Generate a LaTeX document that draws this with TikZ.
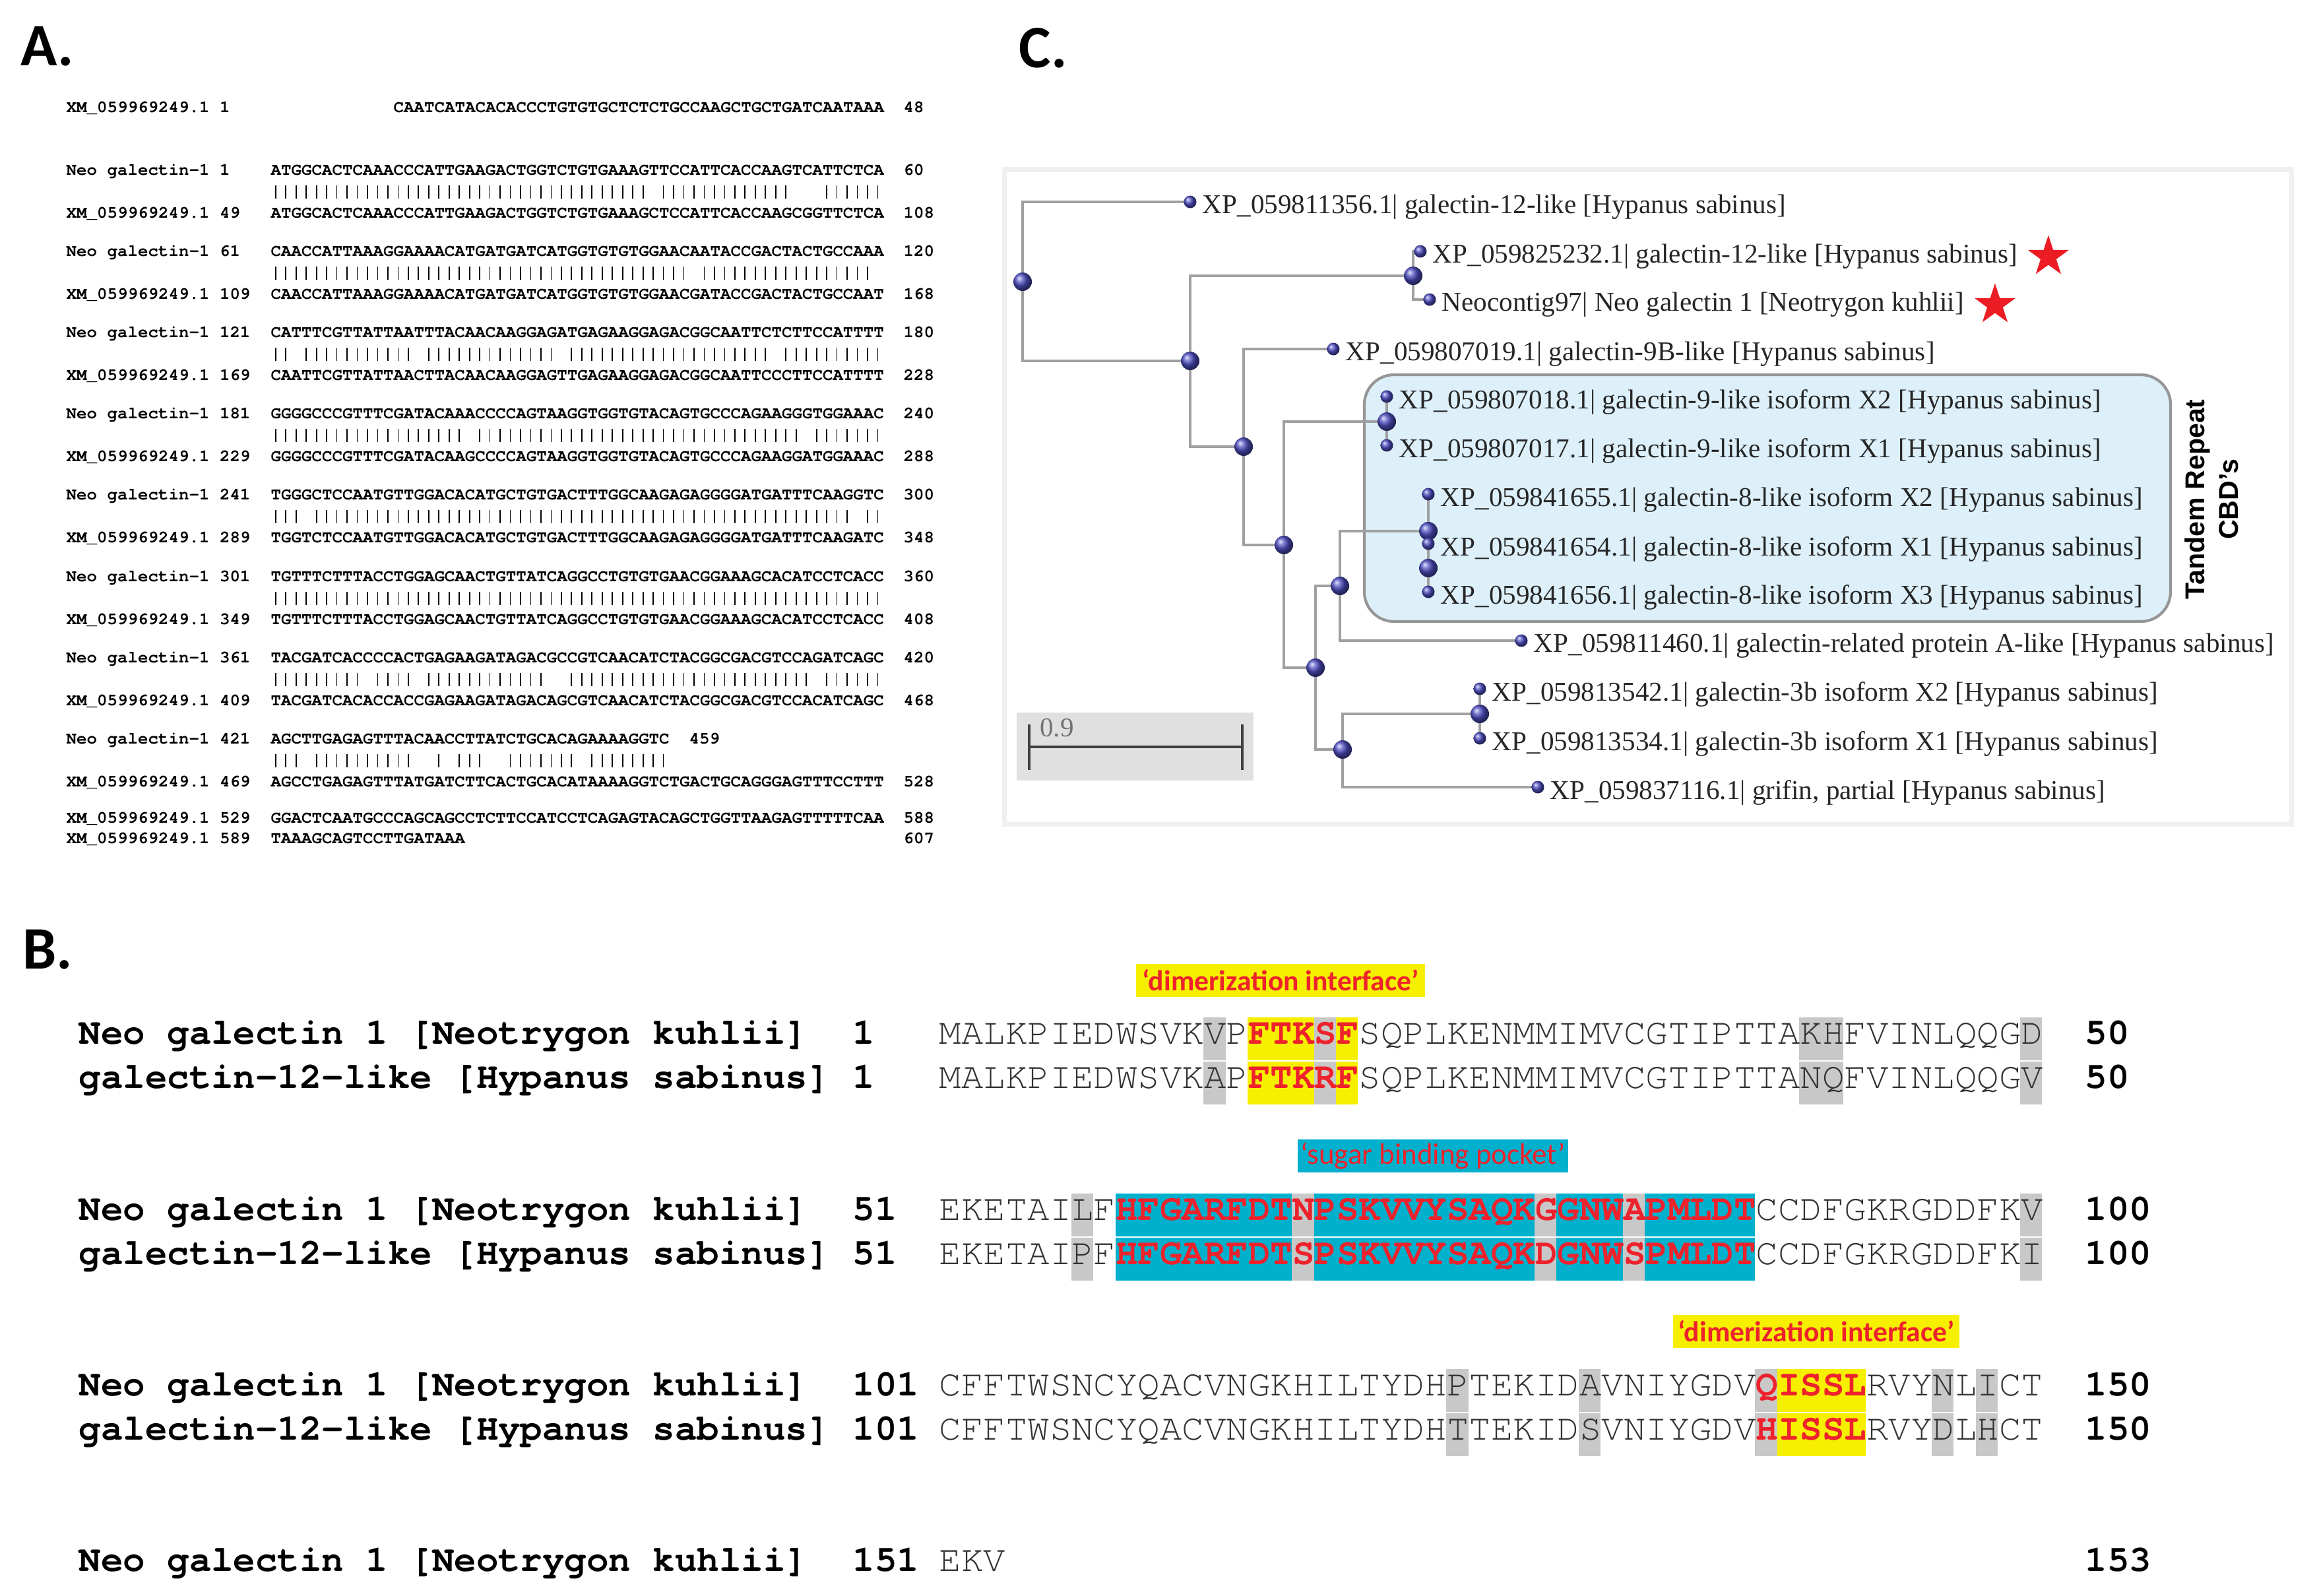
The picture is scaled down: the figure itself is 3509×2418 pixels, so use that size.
\documentclass[tikz,border=0pt]{standalone}
\usepackage{fontspec}
\usetikzlibrary{positioning,shapes.geometric,backgrounds}
\setmainfont{Liberation Serif}
\newfontfamily\seqfont{TeX Gyre Cursor}
\newfontfamily\tagfont{Carlito}
\newfontfamily\sidefont{Liberation Sans}

\definecolor{dotblue}{RGB}{78,78,196}
\definecolor{branchgray}{RGB}{160,160,160}
\definecolor{boxblue}{RGB}{221,240,249}
\definecolor{boxedge}{RGB}{150,150,150}
\definecolor{hlgray}{RGB}{200,200,200}
\definecolor{hlyellow}{RGB}{246,240,0}
\definecolor{hlcyan}{RGB}{0,176,204}
\definecolor{motifred}{RGB}{238,34,44}
\definecolor{starred}{RGB}{236,28,36}

\newcommand{\motif}[1]{\textcolor{motifred}{\bfseries #1}}

\begin{document}
\begin{tikzpicture}[x=0.01cm, y=-0.01cm,
    panellabel/.style={anchor=base west, inner sep=0, font=\tagfont\bfseries\fontsize{26}{30}\selectfont},
    alnline/.style={anchor=base west, inner sep=0, font=\seqfont\bfseries\fontsize{7.34}{9}\selectfont},
    matchbar/.style={line width=0.5pt, black},
    leafdot/.style={circle, inner sep=0, minimum size=0.19cm, ball color=dotblue},
    innerdot/.style={circle, inner sep=0, minimum size=0.28cm, ball color=dotblue},
    branch/.style={draw=branchgray, line width=0.9pt},
    leaflabel/.style={inner sep=0, yshift=-0.08cm, font=\fontsize{11.7}{14}\selectfont, text=black!85},
    redstar/.style={star, star points=5, star point ratio=2.6, fill=starred, inner sep=0, minimum size=0.65cm},
    seqname/.style={anchor=base west, inner sep=0, font=\seqfont\bfseries\fontsize{15.86}{18}\selectfont},
    seqres/.style={anchor=base west, inner sep=0, font=\seqfont\fontsize{15.86}{18}\selectfont, text=black!80},
    tagbox/.style={inner sep=0, minimum height=0.5cm, text=motifred}
  ]
  \useasboundingbox (0,0) rectangle (3509,2418);

  \begin{scope}[on background layer]
    \fill[white] (0,0) rectangle (3509,2418);
    \filldraw[fill=white, draw=black!6, line width=2pt] (1522,257) rectangle (3473,1249);
    \draw[fill=boxblue, draw=boxedge, line width=1.2pt, rounded corners=0.45cm] (2068,568) rectangle (3290,942);
  \end{scope}

  % panel labels
  \node[panellabel] (pa) at (31,100) {A.};
  \node[panellabel] (pb) at (34,1468) {B.};
  \node[panellabel] (pc) at (1544,102) {C.};

  % A: nucleotide alignment
  \node[alnline] (a0n) at (100,170) {XM\_059969249.1 1};
  \node[alnline] (a0s) at (596,170) {CAATCATACACACCCTGTGTGCTCTCTGCCAAGCTGCTGATCAATAAA};
  \node[alnline] (a0e) at (1369,170) {48};

  \node[alnline] (a1n) at (100,265) {Neo galectin-1 1};
  \node[alnline] (a1s) at (410,265) {ATGGCACTCAAACCCATTGAAGACTGGTCTGTGAAAGTTCCATTCACCAAGTCATTCTCA};
  \node[alnline] (a1e) at (1369,265) {60};
  \node[alnline] (b1n) at (100,330) {XM\_059969249.1 49};
  \node[alnline] (b1s) at (410,330) {ATGGCACTCAAACCCATTGAAGACTGGTCTGTGAAAGCTCCATTCACCAAGCGGTTCTCA};
  \node[alnline] (b1e) at (1369,330) {108};

  \node[alnline] (a2n) at (100,388) {Neo galectin-1 61};
  \node[alnline] (a2s) at (410,388) {CAACCATTAAAGGAAAACATGATGATCATGGTGTGTGGAACAATACCGACTACTGCCAAA};
  \node[alnline] (a2e) at (1369,388) {120};
  \node[alnline] (b2n) at (100,453) {XM\_059969249.1 109};
  \node[alnline] (b2s) at (410,453) {CAACCATTAAAGGAAAACATGATGATCATGGTGTGTGGAACGATACCGACTACTGCCAAT};
  \node[alnline] (b2e) at (1369,453) {168};

  \node[alnline] (a3n) at (100,511) {Neo galectin-1 121};
  \node[alnline] (a3s) at (410,511) {CATTTCGTTATTAATTTACAACAAGGAGATGAGAAGGAGACGGCAATTCTCTTCCATTTT};
  \node[alnline] (a3e) at (1369,511) {180};
  \node[alnline] (b3n) at (100,576) {XM\_059969249.1 169};
  \node[alnline] (b3s) at (410,576) {CAATTCGTTATTAACTTACAACAAGGAGTTGAGAAGGAGACGGCAATTCCCTTCCATTTT};
  \node[alnline] (b3e) at (1369,576) {228};

  \node[alnline] (a4n) at (100,634) {Neo galectin-1 181};
  \node[alnline] (a4s) at (410,634) {GGGGCCCGTTTCGATACAAACCCCAGTAAGGTGGTGTACAGTGCCCAGAAGGGTGGAAAC};
  \node[alnline] (a4e) at (1369,634) {240};
  \node[alnline] (b4n) at (100,699) {XM\_059969249.1 229};
  \node[alnline] (b4s) at (410,699) {GGGGCCCGTTTCGATACAAGCCCCAGTAAGGTGGTGTACAGTGCCCAGAAGGATGGAAAC};
  \node[alnline] (b4e) at (1369,699) {288};

  \node[alnline] (a5n) at (100,757) {Neo galectin-1 241};
  \node[alnline] (a5s) at (410,757) {TGGGCTCCAATGTTGGACACATGCTGTGACTTTGGCAAGAGAGGGGATGATTTCAAGGTC};
  \node[alnline] (a5e) at (1369,757) {300};
  \node[alnline] (b5n) at (100,822) {XM\_059969249.1 289};
  \node[alnline] (b5s) at (410,822) {TGGTCTCCAATGTTGGACACATGCTGTGACTTTGGCAAGAGAGGGGATGATTTCAAGATC};
  \node[alnline] (b5e) at (1369,822) {348};

  \node[alnline] (a6n) at (100,881) {Neo galectin-1 301};
  \node[alnline] (a6s) at (410,881) {TGTTTCTTTACCTGGAGCAACTGTTATCAGGCCTGTGTGAACGGAAAGCACATCCTCACC};
  \node[alnline] (a6e) at (1369,881) {360};
  \node[alnline] (b6n) at (100,946) {XM\_059969249.1 349};
  \node[alnline] (b6s) at (410,946) {TGTTTCTTTACCTGGAGCAACTGTTATCAGGCCTGTGTGAACGGAAAGCACATCCTCACC};
  \node[alnline] (b6e) at (1369,946) {408};

  \node[alnline] (a7n) at (100,1004) {Neo galectin-1 361};
  \node[alnline] (a7s) at (410,1004) {TACGATCACCCCACTGAGAAGATAGACGCCGTCAACATCTACGGCGACGTCCAGATCAGC};
  \node[alnline] (a7e) at (1369,1004) {420};
  \node[alnline] (b7n) at (100,1069) {XM\_059969249.1 409};
  \node[alnline] (b7s) at (410,1069) {TACGATCACACCACCGAGAAGATAGACAGCGTCAACATCTACGGCGACGTCCACATCAGC};
  \node[alnline] (b7e) at (1369,1069) {468};

  \node[alnline] (a8n) at (100,1127) {Neo galectin-1 421};
  \node[alnline] (a8s) at (410,1127) {AGCTTGAGAGTTTACAACCTTATCTGCACAGAAAAGGTC};
  \node[alnline] (a8e) at (1044,1127) {459};
  \node[alnline] (b8n) at (100,1192) {XM\_059969249.1 469};
  \node[alnline] (b8s) at (410,1192) {AGCCTGAGAGTTTATGATCTTCACTGCACATAAAAGGTCTGACTGCAGGGAGTTTCCTTT};
  \node[alnline] (b8e) at (1369,1192) {528};

  \node[alnline] (c1n) at (100,1247) {XM\_059969249.1 529};
  \node[alnline] (c1s) at (410,1247) {GGACTCAATGCCCAGCAGCCTCTTCCATCCTCAGAGTACAGCTGGTTAAGAGTTTTTCAA};
  \node[alnline] (c1e) at (1369,1247) {588};
  \node[alnline] (c2n) at (100,1278) {XM\_059969249.1 589};
  \node[alnline] (c2s) at (410,1278) {TAAAGCAGTCCTTGATAAA};
  \node[alnline] (c2e) at (1369,1278) {607};

  % match bars
  \foreach \yy/\runs in {291/{1/37,39/51,55/60}, 414/{1/41,43/59},
      537/{1/2,4/14,16/28,30/49,51/60}, 660/{1/19,21/52,54/60},
      783/{1/3,5/57,59/60}, 907/{1/60}, 1030/{1/9,11/14,16/27,30/53,55/60},
      1153/{1/3,5/14,17/17,19/21,24/30,32/39}}
    \foreach \a/\b in \runs
      \foreach \i in {\a,...,\b}
        \draw[matchbar] ({410+(\i-0.5)*15.47},\yy-10) -- ++(0,20);

  % B: protein alignment, shading first
  \foreach \yy in {1582,1649} {
    \fill[hlyellow] ({1423+14*33.44},\yy-40) rectangle ({1423+19*33.44},\yy+25);
    \foreach \i in {13,18,40,41,50}
      \fill[hlgray] ({1423+(\i-1)*33.44},\yy-40) rectangle ({1423+\i*33.44},\yy+25);
  }
  \foreach \yy in {1849,1916} {
    \fill[hlcyan] ({1423+8*33.44},\yy-40) rectangle ({1423+37*33.44},\yy+25);
    \foreach \i in {7,17,28,32,50}
      \fill[hlgray] ({1423+(\i-1)*33.44},\yy-40) rectangle ({1423+\i*33.44},\yy+25);
  }
  \foreach \yy in {2115,2182} {
    \fill[hlyellow] ({1423+38*33.44},\yy-40) rectangle ({1423+42*33.44},\yy+25);
    \foreach \i in {24,30,38,46,48}
      \fill[hlgray] ({1423+(\i-1)*33.44},\yy-40) rectangle ({1423+\i*33.44},\yy+25);
  }

  \node[tagbox, fill=hlyellow, minimum width=4.37cm, font=\tagfont\bfseries\fontsize{12.4}{14}\selectfont] (dimer1) at (1941,1486) {‘dimerization interface’};
  \node[tagbox, fill=hlcyan, minimum width=4.10cm, font=\tagfont\fontsize{12.8}{14}\selectfont] (sugar) at (2172,1752) {‘sugar binding pocket’};
  \node[tagbox, fill=hlyellow, minimum width=4.34cm, font=\tagfont\bfseries\fontsize{12.4}{14}\selectfont] (dimer2) at (2753,2018) {‘dimerization interface’};

  \node[seqname] (bneo1) at (119,1582) {Neo galectin 1 [Neotrygon kuhlii]};
  \node[seqname] (bnum1) at (1292,1582) {1};
  \node[seqres] (bseq1) at (1423,1582) {MALKPIEDWSVKVP\motif{FTKSF}SQPLKENMMIMVCGTIPTTAKHFVINLQQGD};
  \node[seqname] (bend1) at (3160,1582) {50};
  \node[seqname] (bgal1) at (119,1649) {galectin-12-like [Hypanus sabinus]};
  \node[seqname] (bnum2) at (1292,1649) {1};
  \node[seqres] (bseq2) at (1423,1649) {MALKPIEDWSVKAP\motif{FTKRF}SQPLKENMMIMVCGTIPTTANQFVINLQQGV};
  \node[seqname] (bend2) at (3160,1649) {50};

  \node[seqname] (bneo2) at (119,1849) {Neo galectin 1 [Neotrygon kuhlii]};
  \node[seqname] (bnum3) at (1292,1849) {51};
  \node[seqres] (bseq3) at (1423,1849) {EKETAILF\motif{HFGARFDTNPSKVVYSAQKGGNWAPMLDT}CCDFGKRGDDFKV};
  \node[seqname] (bend3) at (3160,1849) {100};
  \node[seqname] (bgal2) at (119,1916) {galectin-12-like [Hypanus sabinus]};
  \node[seqname] (bnum4) at (1292,1916) {51};
  \node[seqres] (bseq4) at (1423,1916) {EKETAIPF\motif{HFGARFDTSPSKVVYSAQKDGNWSPMLDT}CCDFGKRGDDFKI};
  \node[seqname] (bend4) at (3160,1916) {100};

  \node[seqname] (bneo3) at (119,2115) {Neo galectin 1 [Neotrygon kuhlii]};
  \node[seqname] (bnum5) at (1292,2115) {101};
  \node[seqres] (bseq5) at (1423,2115) {CFFTWSNCYQACVNGKHILTYDHPTEKIDAVNIYGDV\motif{QISSL}RVYNLICT};
  \node[seqname] (bend5) at (3160,2115) {150};
  \node[seqname] (bgal3) at (119,2182) {galectin-12-like [Hypanus sabinus]};
  \node[seqname] (bnum6) at (1292,2182) {101};
  \node[seqres] (bseq6) at (1423,2182) {CFFTWSNCYQACVNGKHILTYDHTTEKIDSVNIYGDV\motif{HISSL}RVYDLHCT};
  \node[seqname] (bend6) at (3160,2182) {150};

  \node[seqname] (bneo4) at (119,2381) {Neo galectin 1 [Neotrygon kuhlii]};
  \node[seqname] (bnum7) at (1292,2381) {151};
  \node[seqres] (bseq7) at (1423,2381) {EKV};
  \node[seqname] (bend7) at (3160,2381) {153};

  % C: tree
  \node[innerdot] (n0) at (1550,427) {};
  \node[leafdot] (l1) at (1804,306) {};
  \node[innerdot] (n1) at (1804,547) {};
  \node[innerdot] (n2) at (2142,418) {};
  \node[leafdot] (l2) at (2153,381) {};
  \node[leafdot] (l3) at (2167,454) {};
  \node[innerdot] (n3) at (1885,677) {};
  \node[leafdot] (l4) at (2021,529) {};
  \node[innerdot] (n4) at (1946,826) {};
  \node[innerdot] (n5) at (2102,639) {};
  \node[leafdot] (l5) at (2102,601) {};
  \node[leafdot] (l6) at (2102,675) {};
  \node[innerdot] (n6) at (1994,1012) {};
  \node[innerdot] (n7) at (2031,888) {};
  \node[leafdot] (l7) at (2165,749) {};
  \node[innerdot] (n9) at (2165,805) {};
  \node[leafdot] (l8) at (2165,824) {};
  \node[innerdot] (n10) at (2165,861) {};
  \node[leafdot] (l9) at (2165,897) {};
  \node[leafdot] (l10) at (2306,971) {};
  \node[innerdot] (n8) at (2035,1136) {};
  \node[innerdot] (n11) at (2243,1082) {};
  \node[leafdot] (l11) at (2243,1044) {};
  \node[leafdot] (l12) at (2243,1119) {};
  \node[leafdot] (l13) at (2331,1193) {};

  \begin{scope}[on background layer]
    \foreach \p/\c in {n0/l1, n0/n1, n1/n2, n1/n3, n2/l2, n2/l3, n3/l4, n3/n4,
        n4/n5, n4/n6, n5/l5, n5/l6, n6/n7, n6/n8, n7/n9, n7/l10, n9/l7, n9/n10,
        n10/l8, n10/l9, n8/n11, n8/l13, n11/l11, n11/l12}
      \draw[branch] (\p.center) |- (\c.center);
  \end{scope}

  \node[leaflabel, right=0.08cm of l1] (t1) {XP\_059811356.1| galectin-12-like [Hypanus sabinus]};
  \node[leaflabel, right=0.08cm of l2] (t2) {XP\_059825232.1| galectin-12-like [Hypanus sabinus]};
  \node[leaflabel, right=0.08cm of l3] (t3) {Neocontig97| Neo galectin 1 [Neotrygon kuhlii]};
  \node[leaflabel, right=0.08cm of l4] (t4) {XP\_059807019.1| galectin-9B-like [Hypanus sabinus]};
  \node[leaflabel, right=0.08cm of l5] (t5) {XP\_059807018.1| galectin-9-like isoform X2 [Hypanus sabinus]};
  \node[leaflabel, right=0.08cm of l6] (t6) {XP\_059807017.1| galectin-9-like isoform X1 [Hypanus sabinus]};
  \node[leaflabel, right=0.08cm of l7] (t7) {XP\_059841655.1| galectin-8-like isoform X2 [Hypanus sabinus]};
  \node[leaflabel, right=0.08cm of l8] (t8) {XP\_059841654.1| galectin-8-like isoform X1 [Hypanus sabinus]};
  \node[leaflabel, right=0.08cm of l9] (t9) {XP\_059841656.1| galectin-8-like isoform X3 [Hypanus sabinus]};
  \node[leaflabel, right=0.08cm of l10] (t10) {XP\_059811460.1| galectin-related protein A-like [Hypanus sabinus]};
  \node[leaflabel, right=0.08cm of l11] (t11) {XP\_059813542.1| galectin-3b isoform X2 [Hypanus sabinus]};
  \node[leaflabel, right=0.08cm of l12] (t12) {XP\_059813534.1| galectin-3b isoform X1 [Hypanus sabinus]};
  \node[leaflabel, right=0.08cm of l13] (t13) {XP\_059837116.1| grifin, partial [Hypanus sabinus]};

  \node[redstar, right=0.28cm of t2] (star1) {};
  \node[redstar, right=0.28cm of t3] (star2) {};

  \node[rotate=90, align=center, font=\sidefont\bfseries\fontsize{11.7}{14.5}\selectfont] (tandem) at (3352,757) {Tandem Repeat\\CBD’s};

  % scale bar
  \fill[black!12] (1541,1080) rectangle (1900,1183);
  \draw[black!75, line width=1.1pt] (1560,1132) -- (1883,1132);
  \draw[black!75, line width=1.1pt] (1560,1098) -- (1560,1167);
  \draw[black!75, line width=1.1pt] (1883,1098) -- (1883,1167);
  \node[font=\fontsize{11.7}{14}\selectfont, text=black!55] (scaleval) at (1602,1103) {0.9};
\end{tikzpicture}
\end{document}
